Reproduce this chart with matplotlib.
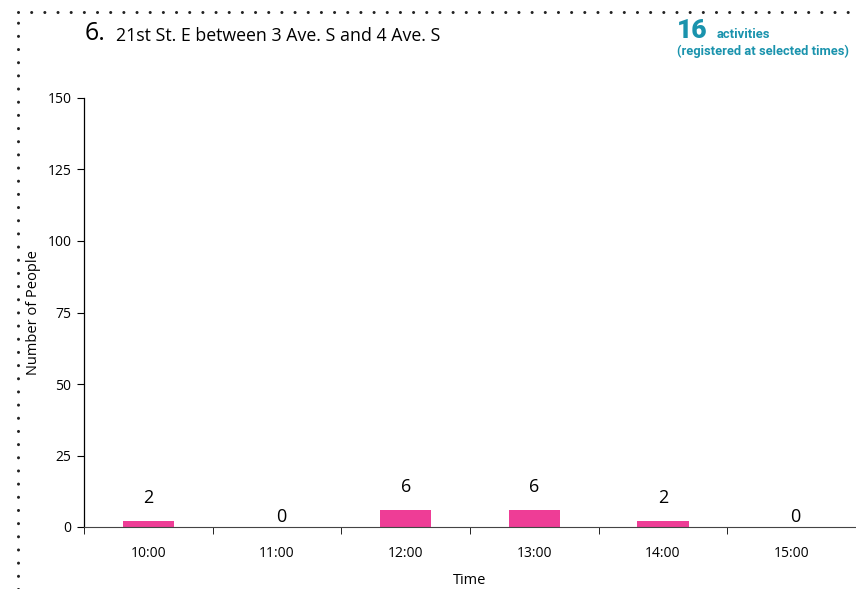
import matplotlib
matplotlib.use("Agg")

import matplotlib.pyplot as plt
from matplotlib.lines import Line2D
import numpy as np

times = ["10:00", "11:00", "12:00", "13:00", "14:00", "15:00"]
people = [2, 0, 6, 6, 2, 0]
total_activities = 16
title_num = "6."
title_text = "21st St. E between 3 Ave. S and 4 Ave. S"

plt.rcParams["font.family"] = ["Open Sans", "DejaVu Sans"]

fig = plt.figure(figsize=(8.56, 5.89), dpi=100)
ax = fig.add_axes([84 / 856, 1 - 527 / 589, 772 / 856, (527 - 98) / 589])

x = np.arange(len(times))
ax.bar(x, people, width=0.4, color="#ee3d96")
ax.set_xlim(-0.5, len(times) - 0.5)
ax.set_ylim(0, 150)

for xi, v in zip(x, people):
    off = 10 if v > 0 else 1
    ax.annotate(str(v), (xi + (0.03 if v == 0 else 0), v), xytext=(0, off),
                textcoords="offset points", ha="center", va="bottom", fontsize=13)

ax.spines["top"].set_visible(False)
ax.spines["right"].set_visible(False)
ax.spines["bottom"].set_color("#444444")
ax.spines["left"].set_linewidth(0.9)

ax.set_yticks(np.arange(0, 151, 25))
ax.tick_params(axis="y", direction="out", length=5, labelsize=10, pad=4)
ax.set_xticks(x)
ax.set_xticklabels(times)
ax.set_xticks(np.arange(-0.5, len(times) - 0.4, 1), minor=True)
ax.tick_params(axis="x", which="major", length=0, labelsize=10, pad=14)
ax.tick_params(axis="x", which="minor", direction="out", length=5)

ax.set_ylabel("Number of People", fontsize=10.5, labelpad=5)
ax.set_xlabel("Time", fontsize=10.5, labelpad=8)

fig.text(85 / 856, 1 - 34 / 589, title_num, fontsize=18, va="center", ha="left")
fig.text(116 / 856, 1 - 36 / 589, title_text, fontsize=12.8, va="center", ha="left")

teal = "#1a93ad"
fig.text(677 / 856, 1 - 31 / 589, str(total_activities), fontsize=19, fontweight="black",
         color=teal, va="center", ha="left", family="Roboto")
fig.text(717 / 856, 1 - 34 / 589, "activities", fontsize=9.4, fontweight="bold",
         color=teal, va="center", ha="left", family="Roboto")
fig.text(677 / 856, 1 - 51 / 589, "(registered at selected times)", fontsize=9.3,
         fontweight="bold", color=teal, va="center", ha="left", family="Roboto")

# dotted frame
fig.add_artist(Line2D([18 / 856, 1], [1 - 12 / 589] * 2, transform=fig.transFigure,
                      color="#222222", linestyle=(0, (0.01, 4.3)), linewidth=2.2,
                      dash_capstyle="round"))
fig.add_artist(Line2D([18 / 856] * 2, [0, 1 - 12 / 589], transform=fig.transFigure,
                      color="#222222", linestyle=(0, (0.01, 4.3)), linewidth=2.2,
                      dash_capstyle="round"))

fig.savefig("out.png", dpi=100)
